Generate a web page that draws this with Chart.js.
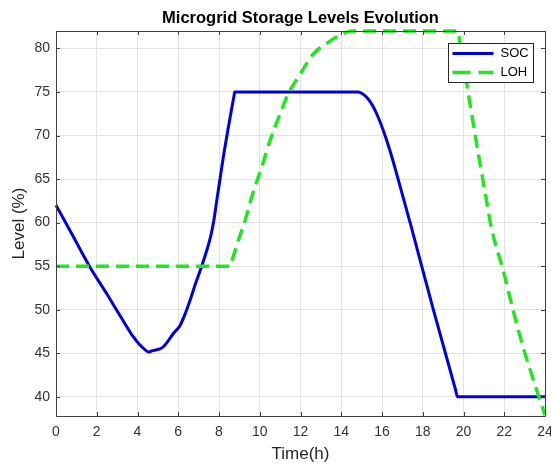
<!DOCTYPE html>
<html>
<head>
<meta charset="utf-8">
<script src="https://cdn.jsdelivr.net/npm/chart.js@4.4.1/dist/chart.umd.min.js"></script>
<style>
  html, body { margin: 0; padding: 0; background: #ffffff; }
  #wrap { width: 551px; height: 465px; }
</style>
</head>
<body>
<div id="wrap"><canvas id="c" width="551" height="465"></canvas></div>
<script>
// ---- data ----
const chartTitle = 'Microgrid Storage Levels Evolution';
const xTitle = 'Time(h)';
const yTitle = 'Level (%)';
const timeTicks = [0, 2, 4, 6, 8, 10, 12, 14, 16, 18, 20, 22, 24];
const levelTicks = [40, 45, 50, 55, 60, 65, 70, 75, 80];

const socTime  = [0, 0.8, 1.64, 2.5, 3.2, 3.79, 4.1, 4.35, 4.53, 4.75, 4.94, 5.1, 5.27, 5.5, 5.77, 6.09, 6.35, 6.58, 6.85, 7.15, 7.45, 7.6, 7.75, 7.9, 8.05, 8.21, 8.5, 8.74, 8.77, 10, 12, 14, 14.5, 14.8, 15.0, 15.25, 15.5, 15.74, 16.06, 16.4, 16.72, 17.46, 18.52, 19.6, 19.71, 19.8, 22, 24];
const socLevel = [62.0, 58.6, 55.0, 51.8, 49.1, 46.9, 46.0, 45.45, 45.15, 45.3, 45.4, 45.5, 45.75, 46.4, 47.3, 48.2, 49.6, 51.1, 53.0, 55.0, 57.2, 58.5, 60.3, 62.7, 65.0, 67.5, 71.5, 74.6, 75.0, 75.0, 75.0, 75.0, 75.0, 75.0, 74.85, 74.4, 73.6, 72.5, 70.6, 68.2, 65.6, 59.3, 50.0, 40.9, 40.0, 40.0, 40.0, 40.0];

const lohTime  = [0, 4, 8.5, 8.55, 8.6, 8.9, 9.3, 9.6, 10.1, 10.5, 11.0, 11.4, 12.0, 12.6, 13.3, 14.0, 14.5, 17, 19.65, 19.72, 19.8, 20.16, 20.45, 20.75, 21.05, 21.38, 21.95, 22.44, 22.94, 23.59, 24];
const lohLevel = [55, 55, 55, 55, 55.37, 57.6, 60.4, 62.9, 66.4, 69.4, 72.5, 74.8, 77.1, 79.3, 80.6, 81.6, 82, 82, 82, 82, 81.0, 75.9, 71.8, 67.6, 63.6, 59.3, 54.5, 49.9, 45.6, 40.8, 37.9];

const yMin = 37.8, yMax = 82;
const seriesNames = ['SOC', 'LOH'];
const seriesColors = ['#0000dd', '#22e622'];

const pts = (xs, ys) => xs.map((x, i) => ({ x: x, y: ys[i] }));

const axisColor = '#404040';
const tickColor = '#333333';
const gridColor = '#e3e3e3';
const FONT = '"Liberation Sans", Arial, Helvetica, sans-serif';

const framePlugin = {
  id: 'frame',
  afterDraw(chart) {
    const ctx = chart.ctx;
    const a = chart.chartArea;
    const xs = chart.scales.x, ys = chart.scales.y;
    ctx.save();
    // box
    ctx.strokeStyle = axisColor;
    ctx.lineWidth = 1;
    ctx.beginPath();
    ctx.rect(Math.round(a.left) + 0.5, Math.round(a.top) + 0.5, Math.round(a.right - a.left), Math.round(a.bottom - a.top));
    ctx.stroke();
    // inward ticks
    const tl = 4;
    ctx.beginPath();
    timeTicks.forEach(v => {
      const px = Math.round(xs.getPixelForValue(v)) + 0.5;
      ctx.moveTo(px, a.bottom); ctx.lineTo(px, a.bottom - tl);
      ctx.moveTo(px, a.top); ctx.lineTo(px, a.top + tl);
    });
    levelTicks.forEach(v => {
      const py = Math.round(ys.getPixelForValue(v)) + 0.5;
      ctx.moveTo(a.left, py); ctx.lineTo(a.left + tl, py);
      ctx.moveTo(a.right, py); ctx.lineTo(a.right - tl, py);
    });
    ctx.stroke();

    // title
    ctx.fillStyle = '#000000';
    ctx.font = 'bold 16.5px ' + FONT;
    ctx.textAlign = 'center';
    ctx.textBaseline = 'middle';
    ctx.fillText(chartTitle, (a.left + a.right) / 2, 18);

    // legend
    const bw = 85, bh = 39;
    const bx = Math.round(a.right - 12 - bw) + 0.5, by = Math.round(a.top + 12) + 0.5;
    ctx.fillStyle = '#ffffff';
    ctx.fillRect(bx, by, bw, bh);
    ctx.strokeStyle = '#262626';
    ctx.lineWidth = 1;
    ctx.strokeRect(bx, by, bw, bh);
    const ds = chart.data.datasets;
    ds.forEach((d, i) => {
      const ly = by + 10 + i * 19;
      ctx.save();
      ctx.strokeStyle = d.borderColor;
      ctx.lineWidth = d.borderWidth;
      ctx.setLineDash(i === 1 ? [18, 8] : []);
      ctx.beginPath();
      ctx.moveTo(bx + 4, ly);
      ctx.lineTo(bx + 45, ly);
      ctx.stroke();
      ctx.restore();
      ctx.fillStyle = '#000000';
      ctx.font = '13px ' + FONT;
      ctx.textAlign = 'left';
      ctx.textBaseline = 'middle';
      ctx.fillText(d.label, bx + 52, ly);
    });
    ctx.restore();
  }
};

new Chart(document.getElementById('c'), {
  type: 'line',
  data: {
    datasets: [
      {
        label: seriesNames[0],
        data: pts(socTime, socLevel),
        borderColor: seriesColors[0],
        backgroundColor: seriesColors[0],
        borderWidth: 3,
        pointRadius: 0,
        cubicInterpolationMode: 'monotone',
        fill: false,
        clip: 5,
        order: 1
      },
      {
        label: seriesNames[1],
        data: pts(lohTime, lohLevel),
        borderColor: seriesColors[1],
        backgroundColor: seriesColors[1],
        borderWidth: 3.5,
        borderDash: [13, 7],
        pointRadius: 0,
        cubicInterpolationMode: 'monotone',
        fill: false,
        clip: 5,
        order: 0
      }
    ]
  },
  options: {
    responsive: false,
    animation: false,
    events: [],
    layout: { padding: { top: 31, right: 6, left: 0, bottom: 0 } },
    plugins: {
      legend: { display: false },
      title: { display: false },
      tooltip: { enabled: false }
    },
    scales: {
      x: {
        type: 'linear',
        min: 0,
        max: 24,
        afterBuildTicks: s => { s.ticks = timeTicks.map(v => ({ value: v })); },
        afterFit: s => { s.height = 49; s.paddingLeft = 0; s.paddingRight = 0; },
        grid: { color: gridColor, drawTicks: false },
        border: { display: false },
        ticks: { color: tickColor, font: { family: FONT, size: 14 }, padding: 8, maxRotation: 0, autoSkip: false },
        title: { display: true, text: xTitle, color: '#262626', font: { family: FONT, size: 17 }, padding: { top: 0, bottom: 0 } }
      },
      y: {
        type: 'linear',
        min: yMin,
        max: yMax,
        afterBuildTicks: s => { s.ticks = levelTicks.map(v => ({ value: v })); },
        afterFit: s => { s.width = 56; s.paddingTop = 0; s.paddingBottom = 0; },
        grid: { color: gridColor, drawTicks: false },
        border: { display: false },
        ticks: { color: tickColor, font: { family: FONT, size: 14 }, padding: 6, autoSkip: false },
        title: { display: true, text: yTitle, color: '#262626', font: { family: FONT, size: 17 }, padding: { top: 9, bottom: 0 } }
      }
    }
  },
  plugins: [framePlugin]
});
</script>
</body>
</html>
